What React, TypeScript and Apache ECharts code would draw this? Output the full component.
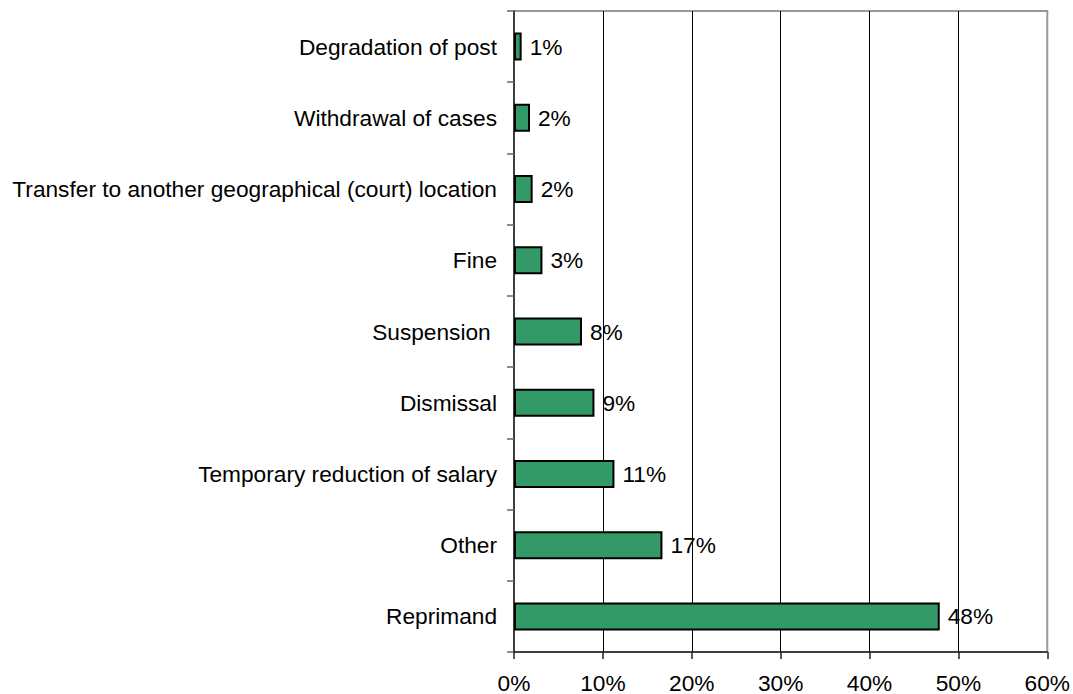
import React, { useEffect, useRef } from "react";
import * as echarts from "echarts";

const categories = [
  "Degradation of post",
  "Withdrawal of cases",
  "Transfer to another geographical (court) location",
  "Fine",
  "Suspension ",
  "Dismissal",
  "Temporary reduction of salary",
  "Other",
  "Reprimand",
];
const values = [0.86, 1.8, 2.1, 3.2, 7.65, 9.05, 11.3, 16.7, 47.9];
const valueLabels = ["1%", "2%", "2%", "3%", "8%", "9%", "11%", "17%", "48%"];
const xTicks = [0, 10, 20, 30, 40, 50, 60];

export default function App() {
  const ref = useRef<HTMLDivElement>(null);
  useEffect(() => {
    if (!ref.current) return;
    const chart = echarts.init(ref.current, undefined, { renderer: "svg" });
    const font = "'Liberation Sans', Arial, sans-serif";
    const fs = 22.7;
    chart.setOption({
      animation: false,
      backgroundColor: "#ffffff",
      textStyle: { fontFamily: font },
      grid: {
        left: 514,
        right: 25,
        top: 11,
        bottom: 41,
        show: true,
        borderColor: "#999999",
        borderWidth: 2,
        backgroundColor: "transparent",
      },
      xAxis: {
        type: "value",
        min: xTicks[0],
        max: xTicks[xTicks.length - 1],
        interval: 10,
        axisLine: { show: true, lineStyle: { color: "#222", width: 1.5 } },
        axisTick: { show: true, length: 7, lineStyle: { color: "#222", width: 1.5 } },
        axisLabel: {
          formatter: (v: number) => v + "%",
          fontSize: fs,
          color: "#000",
          margin: 19,
          fontFamily: font,
        },
        splitLine: { show: true, showMinLine: false, showMaxLine: false, lineStyle: { color: "#000", width: 1 } },
      },
      yAxis: {
        type: "category",
        data: categories,
        inverse: true,
        axisLine: { show: true, lineStyle: { color: "#222", width: 1.5 } },
        axisTick: { show: true, length: 7, lineStyle: { color: "#666", width: 1.5 } },
        axisLabel: { fontSize: fs, color: "#000", margin: 17, fontFamily: font },
        splitLine: { show: false },
      },
      series: [
        {
          type: "bar",
          data: values,
          barWidth: 28,
          itemStyle: { color: "#339966", borderColor: "#000", borderWidth: 2 },
          label: {
            show: true,
            position: "right",
            distance: 8,
            fontSize: fs,
            color: "#000",
            fontFamily: font,
            formatter: (p: any) => valueLabels[p.dataIndex],
          },
        },
      ],
    });
    return () => chart.dispose();
  }, []);
  return <div ref={ref} style={{ width: 1073, height: 694, position: "absolute", left: 0, top: 0 }} />;
}
